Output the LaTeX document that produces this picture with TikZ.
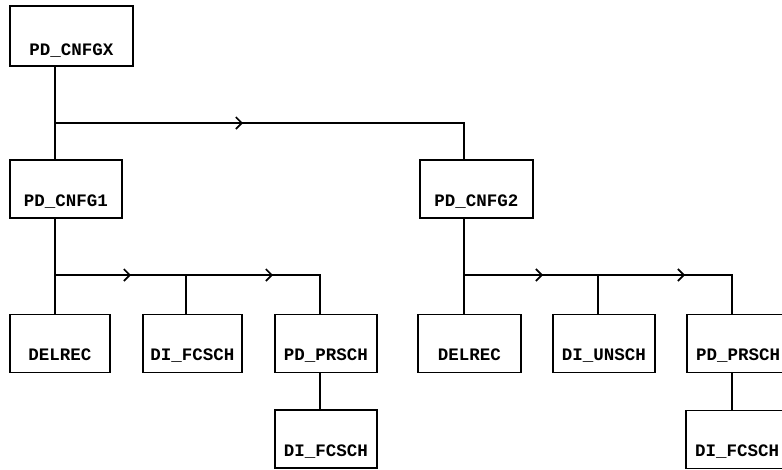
\documentclass[tikz,border=0pt]{standalone}
\usepackage{fontspec}
\setmonofont{Liberation Mono}
\usetikzlibrary{arrows.meta, decorations.markings}

\tikzset{
  chev/.tip={Straight Barb[length=6pt, width=12pt, line width=1.6pt]},
  box/.style={draw, line width=1.6pt, inner sep=0pt, minimum width=#1,
    text height=46pt, text depth=12pt,
    font=\ttfamily\bfseries\fontsize{17.5}{18}\selectfont},
  box/.default=102pt,
  link/.style={line width=1.6pt},
  flowmark/.style={postaction={decorate}, decoration={markings,
    mark=at position #1 with {\arrow{chev}}}},
  twomarks/.style 2 args={postaction={decorate}, decoration={markings,
    mark=at position #1 with {\arrow{chev}},
    mark=at position #2 with {\arrow{chev}}}},
}

\begin{document}
\begin{tikzpicture}[x=1pt, y=-1pt]
  \useasboundingbox (0,0) rectangle (782,469);

  % top level
  \node[box=123pt, text height=49pt, text depth=11pt] (cnfgx) at (71.5,36) {PD\_CNFGX};
  \node[box=112pt] (cnfg1) at (66,189) {PD\_CNFG1};
  \node[box=113pt] (cnfg2) at (476.5,189) {PD\_CNFG2};

  % left branch
  \node[box=100pt] (delrec1) at (60,343.5) {DELREC};
  \node[box=99pt] (fcsch1) at (192.5,343.5) {DI\_FCSCH};
  \node[box] (prsch1) at (326,343.5) {PD\_PRSCH};
  \node[box] (fcsch1b) at (326,439) {DI\_FCSCH};

  % right branch
  \node[box=103pt] (delrec2) at (469.5,343.5) {DELREC};
  \node[box] (unsch) at (604,343.5) {DI\_UNSCH};
  \node[box] (prsch2) at (738,343.5) {PD\_PRSCH};
  \node[box] (fcsch2) at (737,439.5) {DI\_FCSCH};

  % junctions
  \coordinate (top) at (55,123);
  \coordinate (topend) at (464,123);
  \coordinate (lft) at (55,275);
  \coordinate (lmid) at (186,275);
  \coordinate (lend) at (320,275);
  \coordinate (rgt) at (464,275);
  \coordinate (rmid) at (598,275);
  \coordinate (rend) at (732,275);

  \draw[link] (cnfgx.south -| top) -- (cnfg1.north -| top);
  \draw[link, flowmark=188pt] (top) -- (topend) -- (topend |- cnfg2.north);

  \draw[link] (cnfg1.south -| lft) -- (delrec1.north -| lft);
  \draw[link, twomarks={76pt}{218pt}] (lft) -- (lend) -- (lend |- prsch1.north);
  \draw[link] (lmid) -- (lmid |- fcsch1.north);
  \draw[link] (prsch1.south -| lend) -- (fcsch1b.north -| lend);

  \draw[link] (cnfg2.south -| rgt) -- (delrec2.north -| rgt);
  \draw[link, twomarks={79pt}{221pt}] (rgt) -- (rend) -- (rend |- prsch2.north);
  \draw[link] (rmid) -- (rmid |- unsch.north);
  \draw[link] (prsch2.south -| rend) -- (fcsch2.north -| rend);
\end{tikzpicture}
\end{document}
